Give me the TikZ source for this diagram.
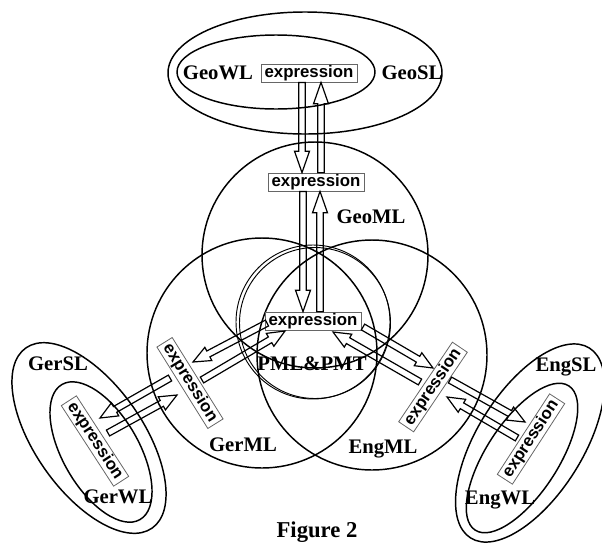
\documentclass[tikz,border=0pt]{standalone}
\usepackage{fontspec}
\setmainfont{Liberation Serif}
\setsansfont{Liberation Sans}
\usetikzlibrary{calc}

\begin{document}
\begin{tikzpicture}[
		x=0.75pt, y=-0.75pt,
		every node/.style = {font=\fontsize{15.5}{18}\selectfont\bfseries},
		region/.style = {line width=1.1pt},
		thinregion/.style = {line width=0.7pt},
		expr/.style = {draw=black!60, line width=0.6pt, fill=white, inner sep=0pt,
			minimum width=72pt, minimum height=13.5pt,
			font=\sffamily\bfseries\fontsize{12.6}{14}\selectfont},
		hollowarrow/.style = {line width=0.9pt, to path={
				($(\tikztostart)!2.5pt!90:(\tikztotarget)$)
				-- ($(\tikztotarget)!#1!(\tikztostart)!2.5pt!90:(\tikztotarget)$)
				-- ($(\tikztotarget)!#1!(\tikztostart)!5.6pt!90:(\tikztotarget)$)
				-- (\tikztotarget)
				-- ($(\tikztotarget)!#1!(\tikztostart)!5.6pt!-90:(\tikztotarget)$)
				-- ($(\tikztotarget)!#1!(\tikztostart)!2.5pt!-90:(\tikztotarget)$)
				-- ($(\tikztostart)!2.5pt!-90:(\tikztotarget)$)
				-- cycle}},
		hollowarrow/.default = 13pt
		]
		\useasboundingbox (0,0) rectangle (602,543);
		
		% Regions -------------------------------------------------------
		\draw[region] (305,73) ellipse [x radius=137, y radius=61];
		\draw[region] (276,72) ellipse [x radius=99, y radius=37];
		\draw[region] (315,255) circle [radius=113];
		\draw[region] (262,353) circle [radius=115];
		\draw[region] (372,355) circle [radius=115];
		\draw[thinregion] (313,322) circle [radius=77];
		\draw[thinregion] (315,323) circle [radius=75.5];
		\draw[region, rotate around={-55:(89,438)}] (89,438) ellipse [x radius=110, y radius=54];
		\draw[region, rotate around={-60:(101,452)}] (101,452) ellipse [x radius=78, y radius=38];
		\draw[region, rotate around={58:(530,443)}] (530,443) ellipse [x radius=112, y radius=53];
		\draw[region, rotate around={57:(522,458)}] (522,458) ellipse [x radius=86, y radius=36];
		
		% Labels --------------------------------------------------------
		\node (geowl)  at (218,73)  {GeoWL};
		\node (geosl)  at (412,73)  {GeoSL};
		\node (geoml)  at (371,217) {GeoML};
		\node (pmlpmt) at (312,364) {PML\&PMT};
		\node (germl)  at (243,445) {GerML};
		\node (engml)  at (383,449) {EngML};
		\node (gersl)  at (58,364)  {GerSL};
		\node (gerwl)  at (118,497) {GerWL};
		\node (engsl)  at (566,367) {EngSL};
		\node (engwl)  at (500,500) {EngWL};
		\node[font=\fontsize{17}{20}\selectfont\bfseries] (fig) at (317,532) {Figure 2};
		
		% Expressions ---------------------------------------------------
		\node[expr] (wlgeo) at (309,73)  {expression};
		\node[expr] (mlgeo) at (316,182) {expression};
		\node[expr] (pml)   at (313,321) {expression};
		\node[expr, rotate=-58] (mlger) at (190,383) {expression};
		\node[expr, rotate=-57] (wlger) at (95,441)  {expression};
		\node[expr, rotate=56]  (mleng) at (433,387) {expression};
		\node[expr, rotate=57]  (wleng) at (531,439) {expression};
		
		% Arrow ends ----------------------------------------------------
		\coordinate (pg1) at (267,323); \coordinate (pg2) at (193,362);
		\coordinate (gp1) at (202,380); \coordinate (gp2) at (285,331);
		\coordinate (gw1) at (170,378); \coordinate (gw2) at (100,418);
		\coordinate (wg1) at (108,433); \coordinate (wg2) at (177,395);
		\coordinate (pe1) at (363,327); \coordinate (pe2) at (433,368);
		\coordinate (ep1) at (420,382); \coordinate (ep2) at (333,332);
		\coordinate (ew1) at (450,380); \coordinate (ew2) at (525,422);
		\coordinate (we1) at (517,438); \coordinate (we2) at (447,397);
		
		% Arrows --------------------------------------------------------
		\draw[hollowarrow=16pt] ($(wlgeo.south)+(-7,0)$) to ($(mlgeo.north)+(-14,0)$);
		\draw[hollowarrow=16pt] ($(mlgeo.north)+(5,0)$) to ($(wlgeo.south)+(12,0)$);
		\draw[hollowarrow=16pt] ($(mlgeo.south)+(-13,0)$) to ($(pml.north)+(-10,0)$);
		\draw[hollowarrow=16pt] ($(pml.north)+(7,0)$) to ($(mlgeo.south)+(4,0)$);
		\draw[hollowarrow] (pg1) to (pg2);
		\draw[hollowarrow] (gp1) to (gp2);
		\draw[hollowarrow] (gw1) to (gw2);
		\draw[hollowarrow] (wg1) to (wg2);
		\draw[hollowarrow] (pe1) to (pe2);
		\draw[hollowarrow] (ep1) to (ep2);
		\draw[hollowarrow] (ew1) to (ew2);
		\draw[hollowarrow] (we1) to (we2);
	\end{tikzpicture}
\end{document}
